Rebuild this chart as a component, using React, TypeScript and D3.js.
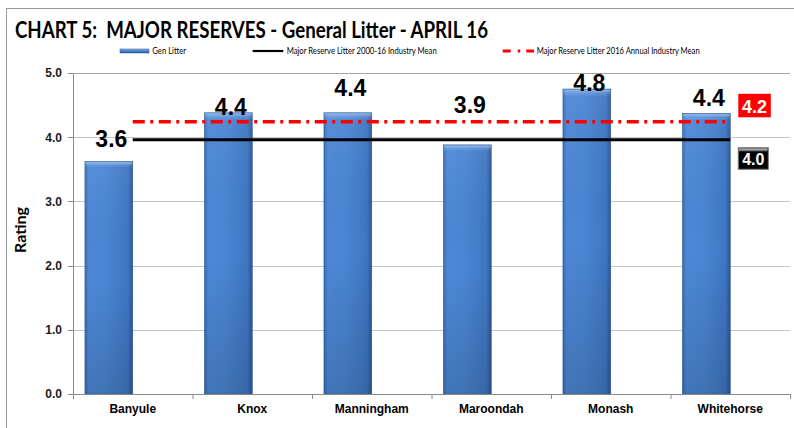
import React from "react";
import * as d3 from "d3";

const categories = ["Banyule", "Knox", "Manningham", "Maroondah", "Monash", "Whitehorse"];
const genLitter = [3.62, 4.38, 4.38, 3.88, 4.75, 4.37];
const valueLabels = ["3.6", "4.4", "4.4", "3.9", "4.8", "4.4"];
const longTermMean = 3.96;
const annualMean = 4.24;
const longTermLabel = "4.0";
const annualLabel = "4.2";
const yTicks = [0, 1, 2, 3, 4, 5];
const legendLabels = [
  "Gen Litter",
  "Major Reserve Litter 2000-16 Industry Mean",
  "Major Reserve Litter 2016 Annual Industry Mean",
];

// label placement tweaks (px, baseline relative to bar top) — layout, not data
const labelDy = [-15, 2, -17, -32, 1.5, -7];

const W = 794;
const H = 428;
const plot = { left: 73, right: 790, top: 73, bottom: 394 };

export default function App() {
  const x = d3.scaleBand<string>().domain(categories).range([plot.left, plot.right]).padding(0);
  const y = d3.scaleLinear().domain([0, 5]).range([plot.bottom, plot.top]);
  const bw = x.bandwidth();
  const lineX1 = (x(categories[0]) as number) + bw / 2;
  const lineX2 = (x(categories[categories.length - 1]) as number) + bw / 2;
  const ltY = y(longTermMean);
  const anY = y(annualMean);
  const bounds = [...categories.map((c) => x(c) as number), plot.right];
  const sans = "'Liberation Sans', Arial, sans-serif";
  const lato = "Lato, 'Open Sans', sans-serif";

  return (
    <svg
      width={W}
      height={H}
      viewBox={`0 0 ${W} ${H}`}
      style={{ position: "absolute", left: 0, top: 0, background: "#fff" }}
    >
      <defs>
        <linearGradient id="barH" x1="0" x2="1" y1="0" y2="0">
          <stop offset="0" stopColor="#3a6cb5" />
          <stop offset="0.08" stopColor="#4d88d6" />
          <stop offset="0.5" stopColor="#4984d1" />
          <stop offset="0.9" stopColor="#3f76c2" />
          <stop offset="1" stopColor="#2b5796" />
        </linearGradient>
        <linearGradient id="barV" x1="0" x2="0" y1="0" y2="1">
          <stop offset="0" stopColor="#ffffff" stopOpacity="0.35" />
          <stop offset="0.025" stopColor="#ffffff" stopOpacity="0.05" />
          <stop offset="0.5" stopColor="#000000" stopOpacity="0" />
          <stop offset="1" stopColor="#000000" stopOpacity="0.14" />
        </linearGradient>
        <linearGradient id="legSw" x1="0" x2="0" y1="0" y2="1">
          <stop offset="0" stopColor="#8db4e8" />
          <stop offset="0.5" stopColor="#4a80cc" />
          <stop offset="1" stopColor="#2d5a9a" />
        </linearGradient>
        <linearGradient id="bevel" x1="0" x2="0" y1="0" y2="1">
          <stop offset="0" stopColor="#d0d0d0" />
          <stop offset="1" stopColor="#4a4a4a" />
        </linearGradient>
      </defs>

      {/* outer frame */}
      <line x1={6} x2={W} y1={8.5} y2={8.5} stroke="#9a9a9a" strokeWidth={1} />
      <line x1={6.5} x2={6.5} y1={8} y2={H} stroke="#9a9a9a" strokeWidth={1} />

      {/* title */}
      <text
        x={15}
        y={37.5}
        fontFamily={lato}
        fontWeight={700}
        fontSize={22}
        textLength={473}
        lengthAdjust="spacingAndGlyphs"
        fill="#000"
        style={{ whiteSpace: "pre" }}
      >
        {"CHART 5:  MAJOR RESERVES - General Litter - APRIL 16"}
      </text>

      {/* legend */}
      <g>
        <rect x={120} y={49} width={29} height={4} fill="url(#legSw)" stroke="#2b5090" strokeWidth={0.5} />
        <text x={152.3} y={54} fontFamily={lato} fontSize={8.5} textLength={33.7} lengthAdjust="spacingAndGlyphs">
          {legendLabels[0]}
        </text>
        <line x1={252.7} x2={283.3} y1={51} y2={51} stroke="#000" strokeWidth={2.2} />
        <text x={286.7} y={54} fontFamily={lato} fontSize={8.5} textLength={150} lengthAdjust="spacingAndGlyphs">
          {legendLabels[1]}
        </text>
        <line
          x1={502.7}
          x2={534}
          y1={51}
          y2={51}
          stroke="#ff0000"
          strokeWidth={3}
          strokeDasharray="8 7 2.5 6 8"
        />
        <text x={536.7} y={54} fontFamily={lato} fontSize={8.5} textLength={163} lengthAdjust="spacingAndGlyphs">
          {legendLabels[2]}
        </text>
      </g>

      {/* gridlines */}
      {yTicks.filter((t) => t > 0).map((t) => (
        <line
          key={"g" + t}
          x1={plot.left}
          x2={plot.right}
          y1={Math.round(y(t)) + 0.5}
          y2={Math.round(y(t)) + 0.5}
          stroke={t === 5 ? "#a6a6a6" : "#c4c4c4"}
          strokeWidth={1}
        />
      ))}

      {/* y axis */}
      <line x1={plot.left + 0.5} x2={plot.left + 0.5} y1={plot.top} y2={plot.bottom} stroke="#8a8a8a" />
      {yTicks.map((t) => (
        <g key={"yt" + t}>
          <line
            x1={plot.left - 5}
            x2={plot.left}
            y1={Math.round(y(t)) + 0.5}
            y2={Math.round(y(t)) + 0.5}
            stroke="#8a8a8a"
          />
          <text
            x={62}
            y={y(t) + 4.3}
            textAnchor="end"
            fontFamily={sans}
            fontWeight={700}
            fontSize={12}
            fill="#1a1a1a"
          >
            {t.toFixed(1)}
          </text>
        </g>
      ))}
      <text
        transform={`translate(26,230) rotate(-90)`}
        textAnchor="middle"
        fontFamily={lato}
        fontWeight={700}
        fontSize={14.5}
        textLength={46}
        lengthAdjust="spacingAndGlyphs"
        fill="#000"
      >
        Rating
      </text>

      {/* bars */}
      {categories.map((c, i) => {
        const bx = (x(c) as number) + bw * 0.1;
        const bwid = bw * 0.4;
        const top = y(genLitter[i]);
        const h = y(0) - top;
        return (
          <g key={"b" + c}>
            <rect x={bx} y={top} width={bwid} height={h} fill="url(#barH)" />
            <rect x={bx} y={top} width={bwid} height={h} fill="url(#barV)" />
            <rect x={bx + 0.5} y={top + 0.5} width={bwid - 1} height={2} fill="#86b4ee" opacity={0.7} />
            <rect x={bx} y={top} width={bwid} height={h} fill="none" stroke="#2c5792" strokeWidth={0.6} />
          </g>
        );
      })}

      {/* x axis */}
      <line x1={plot.left} x2={plot.right} y1={plot.bottom + 0.5} y2={plot.bottom + 0.5} stroke="#8a8a8a" />
      {bounds.map((b, i) => (
        <line key={"xt" + i} x1={b + 0.5} x2={b + 0.5} y1={plot.bottom} y2={plot.bottom + 5} stroke="#8a8a8a" />
      ))}
      {categories.map((c) => (
        <text
          key={"xl" + c}
          x={(x(c) as number) + bw / 2}
          y={413}
          textAnchor="middle"
          fontFamily={sans}
          fontWeight={700}
          fontSize={12}
          fill="#000"
        >
          {c}
        </text>
      ))}

      {/* mean lines */}
      <line x1={lineX1} x2={lineX2} y1={ltY} y2={ltY} stroke="#000" strokeWidth={3.2} />
      <line
        x1={lineX1}
        x2={lineX2}
        y1={anY}
        y2={anY}
        stroke="#ff0000"
        strokeWidth={3.6}
        strokeDasharray="12 5.5 3 5.5"
      />

      {/* value labels */}
      {categories.map((c, i) => (
        <text
          key={"vl" + c}
          x={(x(c) as number) + bw * 0.3 + 2.5}
          y={y(genLitter[i]) + labelDy[i]}
          textAnchor="middle"
          fontFamily={sans}
          fontWeight={700}
          fontSize={23}
          fill="#000"
        >
          {valueLabels[i]}
        </text>
      ))}

      {/* mean value boxes */}
      <g>
        <rect x={738.3} y={anY - 28} width={32.5} height={23.5} fill="#ff0000" />
        <text
          x={754.5}
          y={anY - 8.6}
          textAnchor="middle"
          fontFamily={sans}
          fontWeight={700}
          fontSize={18}
          fill="#fff"
        >
          {annualLabel}
        </text>
      </g>
      <g>
        <rect x={738.3} y={ltY + 8} width={30} height={21.5} fill="#000" stroke="#777" strokeWidth={1} />
        <rect x={739} y={ltY + 8.7} width={28.6} height={3} fill="url(#bevel)" />
        <text
          x={753.3}
          y={ltY + 25.5}
          textAnchor="middle"
          fontFamily={sans}
          fontWeight={700}
          fontSize={16}
          fill="#fff"
        >
          {longTermLabel}
        </text>
      </g>
    </svg>
  );
}
